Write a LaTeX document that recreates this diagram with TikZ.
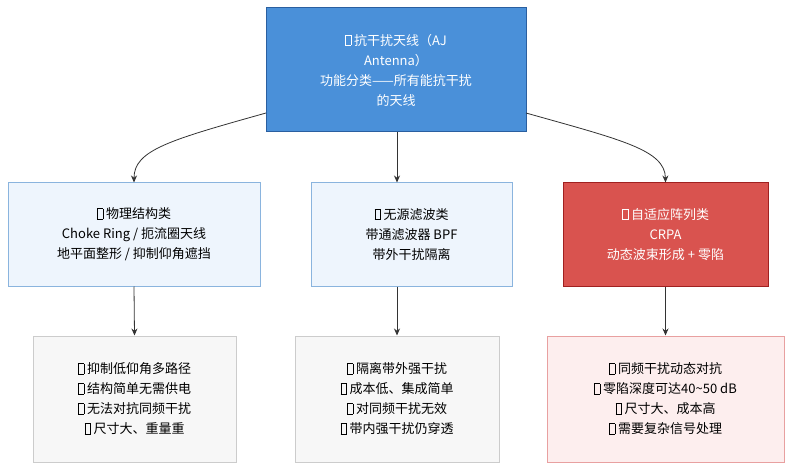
\documentclass[tikz,border=0pt]{standalone}
\usepackage{fontspec}
\setmainfont{Noto Sans CJK SC}
\usetikzlibrary{arrows.meta}
\newcommand\tofu{{\setlength\fboxsep{0pt}\setlength\fboxrule{0.5pt}\fbox{\rule{0pt}{10pt}\hspace{5pt}}}\hspace{3pt}}
\definecolor{topblue}{HTML}{4A90D9}
\definecolor{topborder}{HTML}{2A5FA0}
\definecolor{lblue}{HTML}{EEF5FD}
\definecolor{lbluebd}{HTML}{8AB4DE}
\definecolor{rred}{HTML}{D9534F}
\definecolor{rredbd}{HTML}{A02020}
\definecolor{gfill}{HTML}{F7F7F7}
\definecolor{gbd}{HTML}{CCCCCC}
\definecolor{pfill}{HTML}{FDEEEE}
\definecolor{pbd}{HTML}{E8A0A0}
\begin{document}
\begin{tikzpicture}[x=1pt,y=-1pt,
  box/.style={draw,line width=1pt,align=center,font=\fontsize{13}{20}\selectfont,inner sep=0pt},
  conn/.style={draw=black!80,line width=0.8pt,-{Stealth[length=7pt,width=6pt]}}]
\useasboundingbox (0,0) rectangle (792,470);
\node[box,fill=topblue,draw=topborder,text=white,minimum width=260pt,minimum height=124pt] (top) at (396,70)
  {\tofu 抗干扰天线（AJ\\Antenna）\\功能分类——所有能抗干扰\\的天线};
\node[box,fill=lblue,draw=lbluebd,minimum width=252pt,minimum height=103pt] (a) at (134,234.5)
  {\tofu 物理结构类\\Choke Ring / 扼流圈天线\\地平面整形 / 抑制仰角遮挡};
\node[box,fill=lblue,draw=lbluebd,minimum width=201pt,minimum height=103pt] (b) at (411.5,234.5)
  {\tofu 无源滤波类\\带通滤波器 BPF\\带外干扰隔离};
\node[box,fill=rred,draw=rredbd,text=white,minimum width=205pt,minimum height=103pt] (c) at (665.5,234.5)
  {\tofu 自适应阵列类\\CRPA\\动态波束形成 + 零陷};
\node[box,fill=gfill,draw=gbd,minimum width=203pt,minimum height=126pt] (a2) at (134.5,399)
  {\tofu 抑制低仰角多路径\\\tofu 结构简单无需供电\\\tofu 无法对抗同频干扰\\\tofu 尺寸大、重量重};
\node[box,fill=gfill,draw=gbd,minimum width=204pt,minimum height=126pt] (b2) at (397,399)
  {\tofu 隔离带外强干扰\\\tofu 成本低、集成简单\\\tofu 对同频干扰无效\\\tofu 带内强干扰仍穿透};
\node[box,fill=pfill,draw=pbd,minimum width=237pt,minimum height=126pt] (c2) at (665.5,399)
  {\tofu 同频干扰动态对抗\\\tofu 零陷深度可达40\textasciitilde 50 dB\\\tofu 尺寸大、成本高\\\tofu 需要复杂信号处理};
\coordinate (tl) at (266,113);
\coordinate (tr) at (526,113);
\draw[conn] (tl) .. controls (170,140) and (134,150) .. (a.north-|134,0);
\draw[conn] (top.south-|397,0) -- (b.north-|397,0);
\draw[conn] (tr) .. controls (622,140) and (665,150) .. (c.north);
\draw[conn] (a.south) -- (a2.north);
\draw[conn] (b.south-|397,0) -- (b2.north);
\draw[conn] (c.south) -- (c2.north);
\end{tikzpicture}
\end{document}
